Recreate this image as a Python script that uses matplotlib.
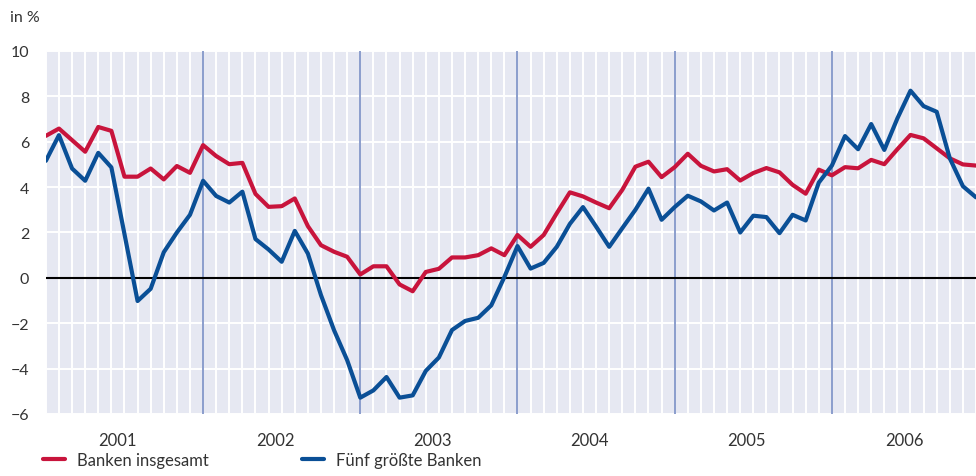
import numpy as np
import matplotlib.pyplot as plt

# monthly values, Jan 2001 .. Dec 2006
years = ['2001', '2002', '2003', '2004', '2005', '2006']
banken_insgesamt = [6.26, 6.58, 6.07, 5.56, 6.65, 6.48, 4.46, 4.46, 4.82, 4.34, 4.93, 4.63,
                    5.85, 5.37, 5.01, 5.07, 3.70, 3.13, 3.16, 3.50, 2.28, 1.44, 1.15, 0.93,
                    0.15, 0.51, 0.51, -0.29, -0.59, 0.26, 0.40, 0.90, 0.90, 1.00, 1.30, 1.00,
                    1.89, 1.37, 1.89, 2.85, 3.77, 3.59, 3.32, 3.07, 3.88, 4.90, 5.12, 4.44,
                    4.88, 5.47, 4.94, 4.69, 4.79, 4.29, 4.62, 4.84, 4.65, 4.10, 3.71, 4.77,
                    4.52, 4.88, 4.83, 5.20, 5.01, 5.67, 6.30, 6.15, 5.71, 5.27, 5.00, 4.95]
fuenf_groesste = [5.16, 6.29, 4.82, 4.28, 5.51, 4.87, 1.93, -1.02, -0.48, 1.13, 2.00, 2.78,
                  4.28, 3.61, 3.32, 3.80, 1.71, 1.25, 0.71, 2.07, 1.07, -0.76, -2.31, -3.63,
                  -5.28, -4.96, -4.37, -5.28, -5.18, -4.10, -3.51, -2.30, -1.90, -1.76, -1.21, 0.04,
                  1.40, 0.41, 0.66, 1.37, 2.38, 3.12, 2.26, 1.37, 2.19, 3.00, 3.93, 2.56,
                  3.12, 3.62, 3.37, 2.97, 3.32, 2.00, 2.74, 2.68, 1.97, 2.78, 2.53, 4.20,
                  4.95, 6.25, 5.67, 6.78, 5.64, 7.03, 8.25, 7.57, 7.32, 5.27, 4.04, 3.55]

RED = '#c8143c'
BLUE = '#0a4f96'
plt.rcParams['font.family'] = ['Lato', 'DejaVu Sans']

fig = plt.figure(figsize=(9.76, 4.77), dpi=100)
ax = fig.add_axes([0.047, 0.130, 0.953, 0.761])
ax.set_facecolor('#e6e8f2')

months = np.arange(len(banken_insgesamt))
ax.set_xlim(0, 70.2)
ax.set_ylim(-6, 10)

# white grid, one line per month and every 2 points
ax.set_xticks(months, minor=True)
ax.set_yticks(np.arange(-6, 11, 2))
ax.set_yticklabels([str(v).replace('-', '\u2212') for v in range(-6, 11, 2)])
ax.set_xticks([12 * i + 5.5 for i in range(len(years))])
ax.set_xticklabels(years)
ax.grid(which='minor', axis='x', color='white', lw=1.4)
ax.grid(which='major', axis='y', color='white', lw=1.4)
ax.set_axisbelow(True)
ax.tick_params(which='both', length=0, colors='#333333')
ax.tick_params(axis='x', pad=13, labelsize=12)
ax.tick_params(axis='y', pad=12, labelsize=11.5)
for s in ax.spines.values():
    s.set_visible(False)

for i in range(1, len(years)):
    ax.axvline(12 * i, color='#8a9dcc', lw=1.4, zorder=1)
ax.axhline(0, color='black', lw=1.5, zorder=2)

ax.plot(months, banken_insgesamt, color=RED, lw=3, label='Banken insgesamt', zorder=3,
        solid_capstyle='round')
ax.plot(months, fuenf_groesste, color=BLUE, lw=3, label='Fünf größte Banken', zorder=4,
        solid_capstyle='round')

fig.text(10 / 976, 1 - 18 / 477, 'in %', fontsize=11.5, color='#333333', va='center')
fig.legend(loc='center left', bbox_to_anchor=(0.044, 1 - 461 / 477), ncol=2, frameon=False,
           fontsize=12, handlelength=1.3, handletextpad=0.75, columnspacing=5.6,
           labelcolor='#333333', borderpad=0, borderaxespad=0)

fig.savefig('out.png', dpi=100)
